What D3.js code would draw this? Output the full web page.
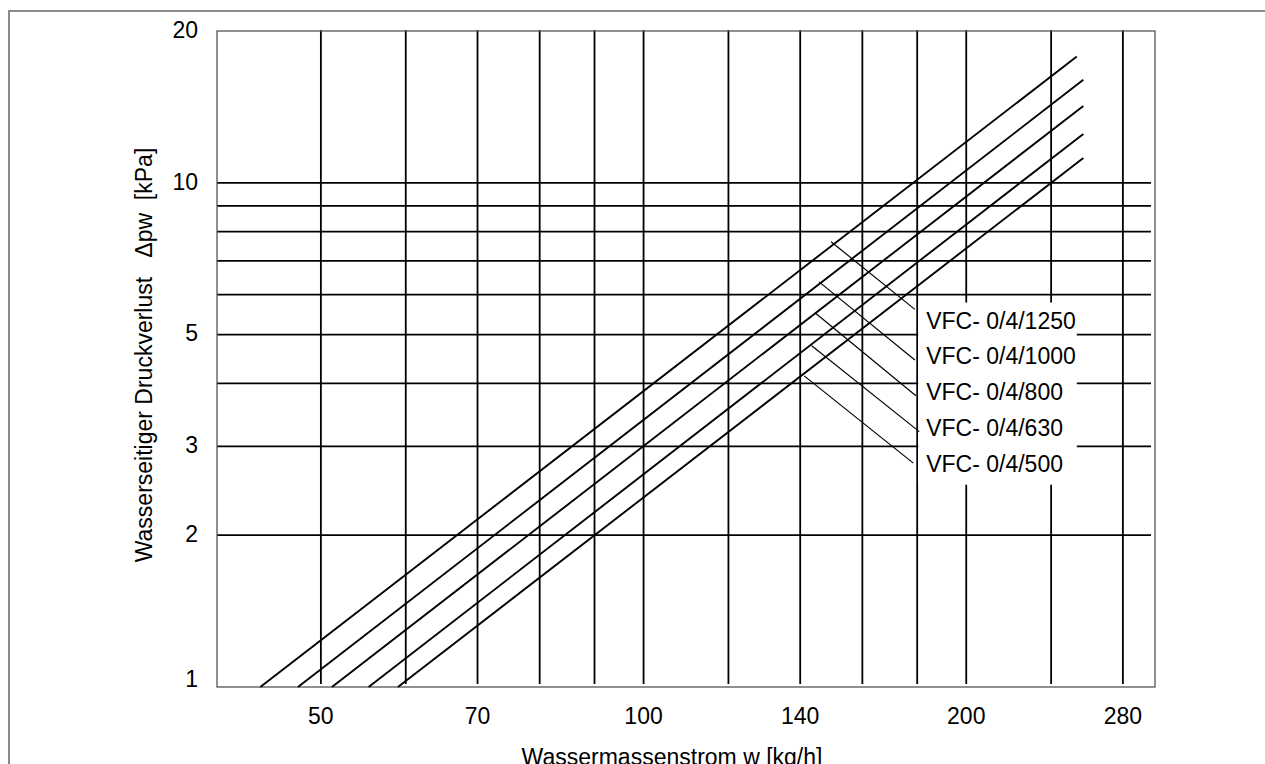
<!DOCTYPE html>
<html>
<head>
<meta charset="utf-8">
<script src="https://cdn.jsdelivr.net/npm/d3@7"></script>
<style>
  html, body { margin: 0; padding: 0; background: #fff; }
  svg { display: block; font-family: "Liberation Sans", Arial, sans-serif; }
</style>
</head>
<body>
<div id="chart"></div>
<script>
// series: straight lines in log-log space, from (flowStart, dropStart) to (flowEnd, dropEnd)
const models = ["VFC- 0/4/1250", "VFC- 0/4/1000", "VFC- 0/4/800", "VFC- 0/4/630", "VFC- 0/4/500"];
const flowStart = [43.9, 47.6, 51.2, 55.4, 59.0];
const dropStart = [1, 1, 1, 1, 1];
const flowEnd = [253.6, 257.2, 257.2, 257.2, 257.2];
const dropEnd = [17.8, 16.0, 14.2, 12.5, 11.2];

// leader lines from each curve to its label
const leaderFlowFrom = [149.6, 145.8, 144.7, 143.5, 141.2];
const leaderDropFrom = [7.64, 6.36, 5.51, 4.75, 4.14];
const leaderFlowTo = [179.1, 179.1, 179.5, 180.8, 178.5];
const leaderDropTo = [5.61, 4.45, 3.78, 3.21, 2.78];

// axes
const flowTicks = [50, 70, 100, 140, 200, 280];
const flowGrid = [50, 60, 70, 80, 90, 100, 120, 140, 160, 180, 200, 240, 280];
const dropTicks = [1, 2, 3, 5, 10, 20];
const dropGrid = [2, 3, 4, 5, 6, 7, 8, 9, 10];

const width = 1265, height = 764;
const fontSize = 23;

const svg = d3.select("#chart").append("svg")
  .attr("width", width)
  .attr("height", height);

// outer gray frame (runs off the page right and bottom)
svg.append("rect")
  .attr("x", 9).attr("y", 11)
  .attr("width", 1300).attr("height", 800)
  .attr("fill", "none")
  .attr("stroke", "#8a8a8a")
  .attr("stroke-width", 2);

const xScale = d3.scaleLog().domain([40, 300]).range([217, 1155]);
const yScale = d3.scaleLog().domain([1, 20]).range([687, 31]);

const [x0, x1] = xScale.range();
const [y0, y1] = yScale.range(); // y0 bottom, y1 top

// grid lines
svg.append("g")
  .selectAll("line")
  .data(flowGrid)
  .join("line")
  .attr("x1", d => xScale(d)).attr("x2", d => xScale(d))
  .attr("y1", y1 - 1).attr("y2", y0 - 3)
  .attr("stroke", "#000")
  .attr("stroke-width", 1.8);

svg.append("g")
  .selectAll("line")
  .data(dropGrid)
  .join("line")
  .attr("x1", x0).attr("x2", x1 - 4)
  .attr("y1", d => yScale(d)).attr("y2", d => yScale(d))
  .attr("stroke", "#000")
  .attr("stroke-width", 1.8);

// plot frame
svg.append("rect")
  .attr("x", x0).attr("y", y1)
  .attr("width", x1 - x0).attr("height", y0 - y1)
  .attr("fill", "none")
  .attr("stroke", "#555")
  .attr("stroke-width", 1.3);

// label block with white background
const labelX = xScale(180) + 9;
const labelTop = yScale(5.14);
const labelStep = 35.8;

const labelBox = svg.append("rect").attr("fill", "#fff");

// curves
const line = d3.line().x(d => xScale(d[0])).y(d => yScale(d[1]));
svg.append("g")
  .selectAll("path")
  .data(models.map((m, i) => [[flowStart[i], dropStart[i]], [flowEnd[i], dropEnd[i]]]))
  .join("path")
  .attr("d", line)
  .attr("fill", "none")
  .attr("stroke", "#000")
  .attr("stroke-width", 1.9);

// leaders
svg.append("g")
  .selectAll("line")
  .data(models.map((m, i) => i))
  .join("line")
  .attr("x1", i => xScale(leaderFlowFrom[i]))
  .attr("y1", i => yScale(leaderDropFrom[i]))
  .attr("x2", i => xScale(leaderFlowTo[i]))
  .attr("y2", i => yScale(leaderDropTo[i]))
  .attr("stroke", "#000")
  .attr("stroke-width", 1.2);

const labels = svg.append("g")
  .selectAll("text")
  .data(models)
  .join("text")
  .attr("x", labelX)
  .attr("y", (d, i) => labelTop + i * labelStep)
  .style("font-size", fontSize + "px")
  .style("white-space", "pre")
  .attr("fill", "#000")
  .text(d => d);

const maxW = d3.max(labels.nodes(), n => n.getComputedTextLength());
labelBox
  .attr("x", labelX - 8)
  .attr("y", labelTop - 26)
  .attr("width", maxW + 9)
  .attr("height", (models.length - 1) * labelStep + 39);

// tick labels
svg.append("g")
  .selectAll("text")
  .data(flowTicks)
  .join("text")
  .attr("x", d => xScale(d))
  .attr("y", y0 + 37)
  .attr("text-anchor", "middle")
  .style("font-size", fontSize + "px")
  .text(d => d);

svg.append("g")
  .selectAll("text")
  .data(dropTicks)
  .join("text")
  .attr("x", x0 - 19)
  .attr("y", d => yScale(d))
  .attr("dy", d => d === 1 ? "0" : "0.3em")
  .attr("text-anchor", "end")
  .style("font-size", fontSize + "px")
  .text(d => d);

// axis titles
svg.append("text")
  .attr("x", 672)
  .attr("y", 765)
  .attr("text-anchor", "middle")
  .style("font-size", fontSize + "px")
  .text("Wassermassenstrom w [kg/h]");

svg.append("text")
  .attr("transform", "translate(152,355) rotate(-90)")
  .attr("text-anchor", "middle")
  .style("font-size", fontSize + "px")
  .style("white-space", "pre")
  .text("Wasserseitiger Druckverlust   \u0394pw  [kPa]");
</script>
</body>
</html>
